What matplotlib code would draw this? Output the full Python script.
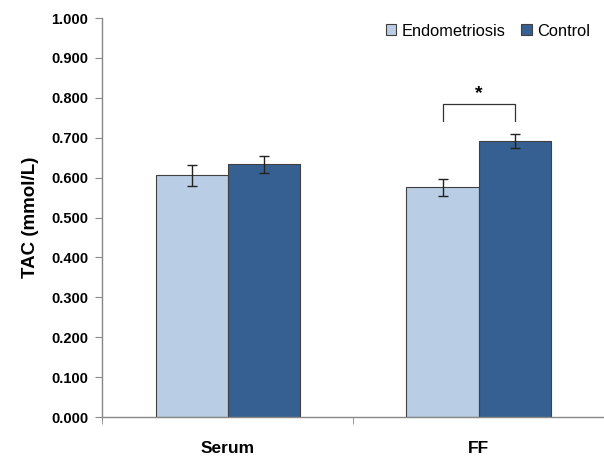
import numpy as np
import matplotlib.pyplot as plt
from matplotlib.ticker import FormatStrFormatter, FixedLocator

plt.rcParams['font.family'] = ['Liberation Sans', 'DejaVu Sans']

groups = ['Serum', 'FF']
series = ['Endometriosis', 'Control']
endo = [0.606, 0.576]
endo_err = [0.026, 0.021]
ctrl = [0.633, 0.692]
ctrl_err = [0.021, 0.017]
colors = ['#B9CDE5', '#366092']

fig = plt.figure(figsize=(6.04, 4.58), dpi=100)
ax = fig.add_axes([0.169, 0.0895, 0.831, 0.871])

x = np.arange(len(groups))
w = 0.287
ekw = dict(ecolor='#222222', elinewidth=1.0, capsize=3.5, capthick=1.0)
ax.bar(x - w / 2, endo, w, yerr=endo_err, color=colors[0], edgecolor='#404040',
       linewidth=0.8, label=series[0], error_kw=ekw)
ax.bar(x + w / 2, ctrl, w, yerr=ctrl_err, color=colors[1], edgecolor='#404040',
       linewidth=0.8, label=series[1], error_kw=ekw)

# significance bracket for FF
x1, x2 = x[1] - w / 2, x[1] + w / 2
ax.plot([x1, x1, x2, x2], [0.743, 0.784, 0.784, 0.743], color='#333333', lw=0.9)
ax.text(x[1], 0.790, '*', ha='center', va='bottom', fontsize=14, fontweight='bold')

ax.set_xlim(-0.5, 1.5)
ax.set_ylim(0, 1.0)
ax.set_yticks(np.arange(0, 1.01, 0.1))
ax.yaxis.set_major_formatter(FormatStrFormatter('%.3f'))
ax.set_xticks(x)
ax.set_xticklabels(groups, fontsize=12.5, fontweight='bold')
ax.xaxis.set_minor_locator(FixedLocator([-0.5, 0.5, 1.5]))
ax.tick_params(axis='x', which='major', length=0, pad=17)
ax.tick_params(axis='x', which='minor', length=5, color='#888888', direction='out')
ax.tick_params(axis='y', length=5, color='#888888', labelsize=10.5, pad=5)
for lab in ax.get_yticklabels():
    lab.set_fontweight('bold')
ax.set_ylabel('TAC (mmol/L)', fontsize=13.5, fontweight='bold', labelpad=9)

for s in ['top', 'right']:
    ax.spines[s].set_visible(False)
for s in ['left', 'bottom']:
    ax.spines[s].set_color('#888888')
    ax.spines[s].set_linewidth(1.0)

ax.legend(loc='upper right', bbox_to_anchor=(0.995, 1.015), ncol=2, frameon=False,
          fontsize=11.8, handlelength=0.65, handleheight=0.65, handletextpad=0.3,
          columnspacing=1.0, borderaxespad=0.3)

fig.savefig('out.png', dpi=100)
